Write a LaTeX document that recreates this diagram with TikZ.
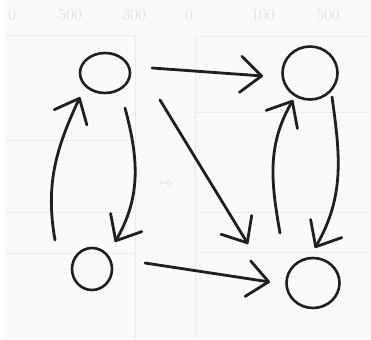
\documentclass[tikz,border=0pt]{standalone}
\usepackage{tikz}
\usetikzlibrary{shapes.geometric, arrows.meta}

\begin{document}
\begin{tikzpicture}[
    x=1pt, y=-1pt,
    state/.style={ellipse, draw=black!88, line width=2.6pt, inner sep=0pt},
    arrow/.style={line width=2.8pt, draw=black!88, line cap=round, -{Straight Barb[length=21pt,width=36pt,round]}},
    faint/.style={draw=black!8, line width=0.8pt},
    scan/.style={text=black!13, font=\fontsize{17}{17}\selectfont, inner sep=0pt}
]
\useasboundingbox (0,0) rectangle (371,339);
\fill [black!2] (5,0) rectangle (371,339);

% faint marks of the scanned page
\draw [faint] (5,35) -- (135,35) (195,36) -- (371,36);
\draw [faint] (135,35) -- (135,339) (195,36) -- (195,339);
\draw [faint] (5,140) -- (135,140) (5,212) -- (135,212);
\draw [faint] (195,112) -- (371,112) (195,212) -- (371,212);
\draw [faint] (5,253) -- (135,253) (195,252) -- (371,252);
\node (t0) [scan] at (12,15) {0};
\node (t1) [scan] at (70,15) {500};
\node (t2) [scan] at (134,15) {300};
\node (t3) [scan] at (189,15) {0};
\node (t4) [scan] at (263,15) {100};
\node (t5) [scan] at (328,15) {500};
\node (w0) [scan, font=\fontsize{13}{13}\selectfont] at (166,183) {$\omega_0$};

% states
\node (tl) [state, minimum width=50pt, minimum height=40pt] at (105,73) {};
\node (tr) [state, minimum width=55pt, minimum height=53pt] at (310,73) {};
\node (bl) [state, minimum width=40pt, minimum height=42pt] at (92,269) {};
\node (br) [state, minimum width=53pt, minimum height=50pt] at (313,283) {};

% transitions
\draw [arrow] ([shift={(47,-5)}]tl.center) -- ([shift={(-47,3)}]tr.center);
\draw [arrow] ([shift={(55,27)}]tl.center) -- ([shift={(-65,-39)}]br.center);
\draw [arrow] ([shift={(20,35)}]tl.center) to[out=-75, in=60] ([shift={(23,-27)}]bl.center);
\draw [arrow] ([shift={(-37,-29)}]bl.center) to[out=100, in=-115] ([shift={(-25,24)}]tl.center);
\draw [arrow] ([shift={(-33,-50)}]br.center) to[out=100, in=-120] ([shift={(-17,27)}]tr.center);
\draw [arrow] ([shift={(22,24)}]tr.center) to[out=-82, in=60] ([shift={(2,-35)}]br.center);
\draw [arrow] ([shift={(53,-6)}]bl.center) -- ([shift={(-43,-1)}]br.center);

\end{tikzpicture}
\end{document}
